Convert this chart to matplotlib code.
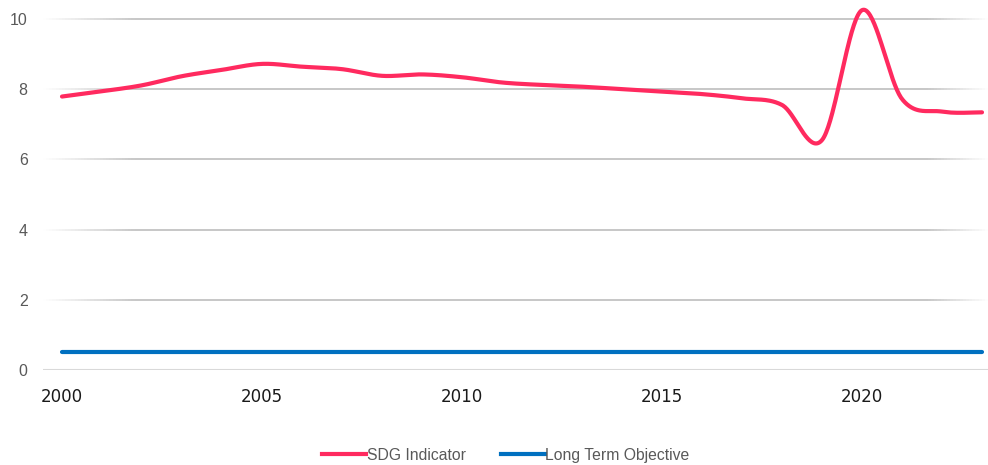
import numpy as np
import matplotlib
matplotlib.use("Agg")
import matplotlib.pyplot as plt
from matplotlib.collections import LineCollection
from matplotlib.lines import Line2D

years = list(range(2000, 2024))
sdg_indicator = [7.79, 7.94, 8.11, 8.37, 8.55, 8.72, 8.64, 8.57, 8.38, 8.42,
                 8.34, 8.19, 8.12, 8.07, 8.00, 7.93, 7.86, 7.74, 7.55, 6.55,
                 10.25, 7.72, 7.36, 7.34]
long_term_objective = [0.5] * len(years)

y_ticks = [0, 2, 4, 6, 8, 10]
x_ticks = [2000, 2005, 2010, 2015, 2020]

PINK = "#FF2A5F"
BLUE = "#0070C0"


def smooth_curve(x, y, n=40):
    """Catmull-Rom style smoothing through every data point."""
    x = np.asarray(x, float)
    y = np.asarray(y, float)
    px = np.concatenate([[x[0]], x, [x[-1]]])
    py = np.concatenate([[y[0]], y, [y[-1]]])
    xs, ys = [], []
    for i in range(1, len(px) - 2):
        p0 = np.array([px[i - 1], py[i - 1]])
        p1 = np.array([px[i], py[i]])
        p2 = np.array([px[i + 1], py[i + 1]])
        p3 = np.array([px[i + 2], py[i + 2]])
        c1 = p1 + (p2 - p0) / 6.0
        c2 = p2 - (p3 - p1) / 6.0
        t = np.linspace(0, 1, n)[:, None]
        pts = ((1 - t) ** 3) * p1 + 3 * ((1 - t) ** 2) * t * c1 \
            + 3 * (1 - t) * t ** 2 * c2 + t ** 3 * p2
        if i > 1:
            pts = pts[1:]
        xs.append(pts[:, 0])
        ys.append(pts[:, 1])
    return np.concatenate(xs), np.concatenate(ys)


fig = plt.figure(figsize=(9.88, 4.65), dpi=100)
ax = fig.add_axes([43 / 988, 95 / 465, 945 / 988, 368.6 / 465])

x_left, x_right = 1999.525, 2023.15
ax.set_xlim(x_left, x_right)
ax.set_ylim(0, 10.5)

# Horizontal gridlines that fade out towards both ends
xs_grid = np.linspace(x_left, x_right, 300)
for yv in y_ticks:
    if yv == 0:
        ax.axhline(0, color="#D9D9D9", lw=1.5, zorder=1)
        continue
    segs = []
    cols = []
    for a, b in zip(xs_grid[:-1], xs_grid[1:]):
        segs.append([(a, yv), (b, yv)])
        m = 0.5 * (a + b)
        fl = np.clip((m - x_left) / 2.3, 0, 1)
        fr = np.clip((x_right - m) / 1.5, 0, 1)
        alpha = min(fl, fr)
        cols.append((0.78, 0.78, 0.78, alpha))
    ax.add_collection(LineCollection(segs, colors=cols, linewidths=1.4, zorder=1))

sx, sy = smooth_curve(years, sdg_indicator)
ax.plot(sx, sy, color=PINK, lw=3.0, solid_capstyle="round", zorder=3,
        clip_on=False)
ax.plot(years, long_term_objective, color=BLUE, lw=3.0,
        solid_capstyle="round", zorder=3)

for s in ax.spines.values():
    s.set_visible(False)

ax.set_yticks(y_ticks)
ax.set_yticklabels([str(v) for v in y_ticks])
ax.set_xticks(x_ticks)
ax.set_xticklabels([str(v) for v in x_ticks])
ax.tick_params(axis="y", length=0, pad=11, labelsize=11.5,
               labelcolor="#595959")
ax.tick_params(axis="x", length=0, pad=13, labelsize=12,
               labelcolor="#1A1A1A")
for lab in ax.get_yticklabels():
    lab.set_family("Liberation Sans")
for lab in ax.get_xticklabels():
    lab.set_family("DejaVu Sans")

handles = [Line2D([], [], color=PINK, lw=3.0),
           Line2D([], [], color=BLUE, lw=3.0)]
leg = fig.legend(handles, ["SDG Indicator", "Long Term Objective"],
                 loc="center", bbox_to_anchor=(506 / 988, 1 - 455 / 465),
                 ncol=2, frameon=False, handlelength=2.8, handletextpad=0.05,
                 columnspacing=2.2,
                 prop={"family": "Liberation Sans", "size": 11.3})
for t in leg.get_texts():
    t.set_color("#595959")

fig.savefig("out.png", dpi=100, facecolor="white")
